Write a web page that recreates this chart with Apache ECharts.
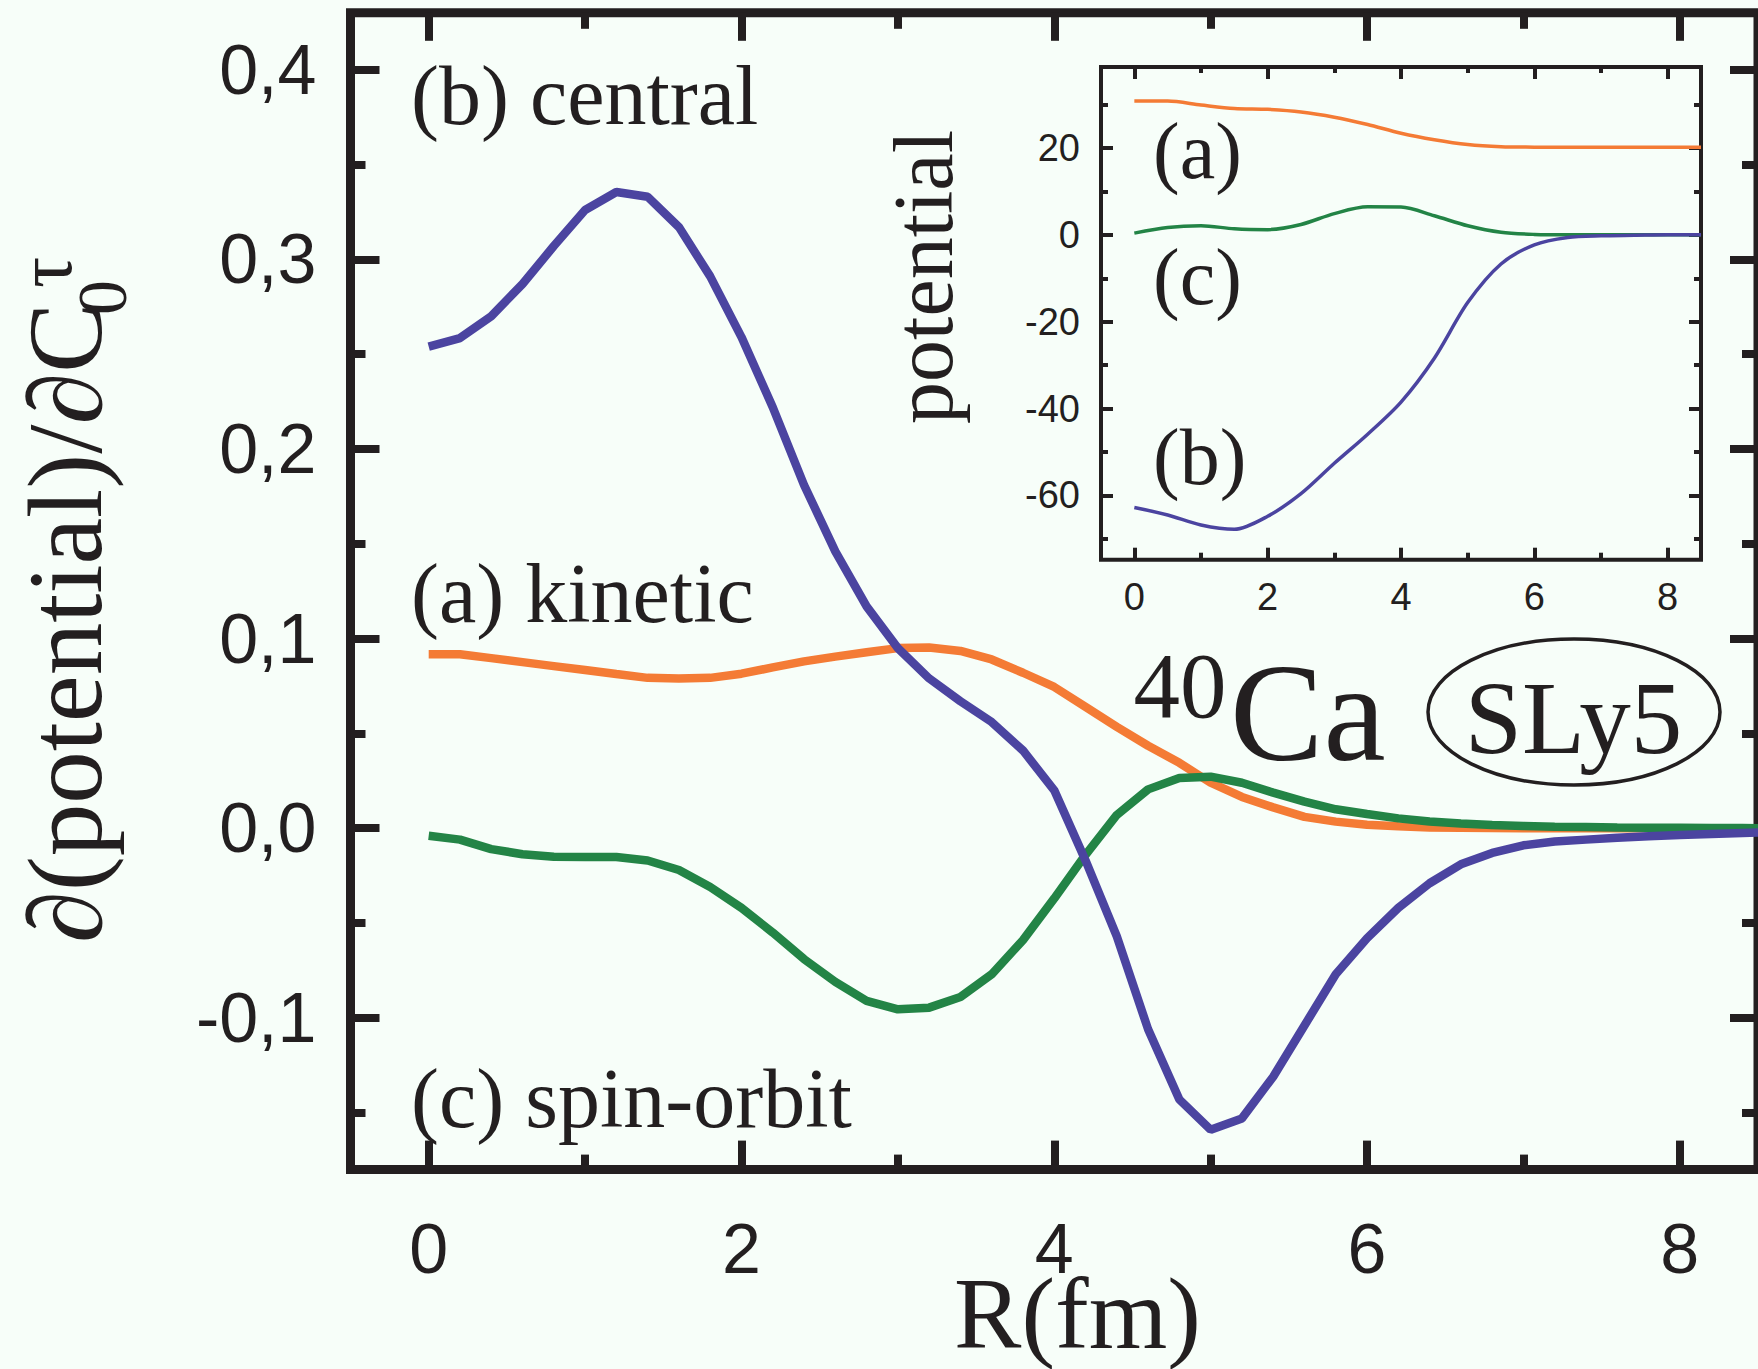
<!DOCTYPE html>
<html>
<head>
<meta charset="utf-8">
<script src="https://cdn.jsdelivr.net/npm/echarts@6/dist/echarts.min.js"></script>
<style>
html, body { margin: 0; padding: 0; background: #F7FEF9; }
#main { width: 1758px; height: 1369px; }
</style>
</head>
<body>
<div id="main"></div>
<script>
// main panel: derivative of the potentials, sampled every 0.2 fm
var radius = [0, 0.2, 0.4, 0.6, 0.8, 1.0, 1.2, 1.4, 1.6, 1.8, 2.0, 2.2, 2.4, 2.6, 2.8, 3.0, 3.2, 3.4, 3.6, 3.8, 4.0, 4.2,
	4.4, 4.6, 4.8, 5.0, 5.2, 5.4, 5.6, 5.8, 6.0, 6.2, 6.4, 6.6, 6.8, 7.0, 7.2, 7.4, 7.6, 7.8, 8.0, 8.2, 8.4, 8.6];
var kinetic = [0.0918, 0.0918, 0.0897, 0.0876, 0.0855, 0.0834, 0.0813, 0.0793, 0.0790, 0.0793, 0.0815, 0.0848, 0.0880,
	0.0905, 0.0928, 0.0950, 0.0953, 0.0935, 0.0890, 0.0820, 0.0745, 0.0640, 0.0535, 0.0435, 0.0345, 0.0240, 0.0165,
	0.0110, 0.0060, 0.0035, 0.0018, 0.0010, 0.0004, 0.0002, 0.0001, 0, 0, 0, 0, 0, 0, 0, 0, 0];
var central = [0.254, 0.2585, 0.270, 0.287, 0.307, 0.326, 0.3355, 0.333, 0.317, 0.291, 0.259, 0.222, 0.181, 0.146,
	0.117, 0.095, 0.079, 0.067, 0.056, 0.041, 0.020, -0.017, -0.057, -0.106, -0.143, -0.159, -0.153, -0.131, -0.104,
	-0.077, -0.058, -0.042, -0.029, -0.019, -0.013, -0.009, -0.007, -0.006, -0.005, -0.0042, -0.0035, -0.003, -0.0025, -0.002];
var spinOrbit = [-0.004, -0.006, -0.011, -0.0137, -0.015, -0.0152, -0.0152, -0.017, -0.022, -0.031, -0.042, -0.055,
	-0.069, -0.081, -0.091, -0.0955, -0.0946, -0.089, -0.077, -0.059, -0.037, -0.014, 0.007, 0.0205, 0.0265, 0.0272,
	0.024, 0.0188, 0.014, 0.010, 0.0075, 0.0052, 0.0036, 0.0025, 0.0017, 0.0012, 0.0008, 0.0006, 0.0004, 0.0003,
	0.0002, 0.0001, 0.0001, 0];

// inset: the potentials themselves, every 0.5 fm
var insetRadius = [0, 0.5, 1.0, 1.5, 2.0, 2.5, 3.0, 3.5, 4.0, 4.5, 5.0, 5.5, 6.0, 6.5, 7.0, 7.5, 8.0, 8.5];
var insetKinetic = [30.8, 30.8, 29.9, 29.1, 28.9, 28.3, 27.1, 25.4, 23.4, 21.9, 20.8, 20.3, 20.2, 20.15, 20.15, 20.15, 20.15, 20.15];
var insetCentral = [-62.8, -64.5, -66.8, -67.8, -64.8, -59.6, -52.6, -45.9, -38.5, -28.4, -15.6, -6.7, -2.3, -0.6, -0.2, -0.1, 0, 0];
var insetSpinOrbit = [0.4, 1.7, 2.1, 1.4, 1.2, 2.4, 4.9, 6.45, 6.4, 4.4, 2.1, 0.6, 0.1, 0, 0, 0, 0, 0];

// ticks
var xTicks = [0, 2, 4, 6, 8];
var xMinor = [1, 3, 5, 7];
var mainYTicks = [-0.1, 0, 0.1, 0.2, 0.3, 0.4];
var mainYMinor = [-0.15, -0.05, 0.05, 0.15, 0.25, 0.35];
var insetYTicks = [-60, -40, -20, 0, 20];
var insetYMinor = [-70, -50, -30, -10, 10, 30];

var ink = '#231F20';
var orange = '#F47B35';
var blue = '#4B44A0';
var green = '#238446';
var sans = '"Liberation Sans", Arial, sans-serif';
var serif = '"Liberation Serif", "DejaVu Serif", serif';

function pairs(xs, ys) {
	return xs.map(function(x, i) { return [x, ys[i]]; });
}

// one axis = one set of ticks (major or minor), optionally with labels
function tickAxis(grid, pos, min, max, ticks, len, width, label) {
	var a = {
		type: 'value', gridIndex: grid, position: pos, min: min, max: max,
		axisLine: { show: false, onZero: false },
		splitLine: { show: false },
		axisTick: { show: true, inside: true, length: len, customValues: ticks, lineStyle: { color: ink, width: width } },
		axisLabel: { show: false }
	};
	if (label) {
		a.axisLabel = Object.assign({ show: true, customValues: ticks, color: ink, fontFamily: sans }, label);
	}
	return a;
}

function line(xi, data, color, width, smooth) {
	return {
		type: 'line', xAxisIndex: xi, yAxisIndex: xi, data: data, symbol: 'none', smooth: smooth || false,
		lineStyle: { color: color, width: width }, itemStyle: { color: color }
	};
}

// text placed by its baseline (middle of the em box is ~0.34 em above it)
function txt(s, x, base, size, align, lh) {
	return {
		type: 'text', z: 100,
		style: {
			text: s, x: x, y: base - 0.34 * size, font: size + 'px ' + serif, fill: ink, lineHeight: lh || size,
			align: align || 'left', verticalAlign: 'middle', textAlign: align || 'left', textVerticalAlign: 'middle'
		}
	};
}

var chart = echarts.init(document.getElementById('main'), null, { renderer: 'svg' });

var mainMinX = -0.5, mainMaxX = 8.5, mainMinY = -0.18, mainMaxY = 0.43;
var inMinY = -74.8, inMaxY = 38.65;

chart.setOption({
	animation: false,
	backgroundColor: '#F7FEF9',
	grid: [
		{ left: 350.5, top: 12.8, width: 1410.8, height: 1156.8, show: true, borderWidth: 9, borderColor: ink, backgroundColor: 'transparent' },
		{ left: 1101, top: 67, width: 600, height: 492.7, show: true, borderWidth: 4, borderColor: ink, backgroundColor: 'transparent' }
	],
	xAxis: [
		tickAxis(0, 'bottom', mainMinX, mainMaxX, xTicks, 29, 8, { fontSize: 70, lineHeight: 50, margin: 54 }),
		tickAxis(0, 'bottom', mainMinX, mainMaxX, xMinor, 15, 8),
		tickAxis(0, 'top', mainMinX, mainMaxX, xTicks, 28, 8),
		tickAxis(0, 'top', mainMinX, mainMaxX, xMinor, 16, 8),
		tickAxis(1, 'bottom', mainMinX, mainMaxX, xTicks, 12, 4, { fontSize: 38, margin: 18 }),
		tickAxis(1, 'bottom', mainMinX, mainMaxX, xMinor, 7, 4),
		tickAxis(1, 'top', mainMinX, mainMaxX, xTicks, 12, 4),
		tickAxis(1, 'top', mainMinX, mainMaxX, xMinor, 6, 4)
	],
	yAxis: [
		tickAxis(0, 'left', mainMinY, mainMaxY, mainYTicks, 29, 8, {
			fontSize: 70, margin: 34, padding: [0, 0, 17, 0],
			formatter: function(v) { return v.toFixed(1).replace('.', ','); }
		}),
		tickAxis(0, 'left', mainMinY, mainMaxY, mainYMinor, 15, 8),
		tickAxis(0, 'right', mainMinY, mainMaxY, mainYTicks, 28, 8),
		tickAxis(0, 'right', mainMinY, mainMaxY, mainYMinor, 16, 8),
		tickAxis(1, 'left', inMinY, inMaxY, insetYTicks, 12, 4, { fontSize: 38, margin: 21, padding: [0, 0, 11, 0] }),
		tickAxis(1, 'left', inMinY, inMaxY, insetYMinor, 7, 4),
		tickAxis(1, 'right', inMinY, inMaxY, insetYTicks, 12, 4),
		tickAxis(1, 'right', inMinY, inMaxY, insetYMinor, 7, 4)
	],
	series: [
		line(0, pairs(radius, kinetic), orange, 8.5),
		line(0, pairs(radius, spinOrbit), green, 8.5),
		line(0, pairs(radius, central), blue, 8.5),
		line(4, pairs(insetRadius, insetKinetic), orange, 3.5, 0.3),
		line(4, pairs(insetRadius, insetSpinOrbit), green, 3.5, 0.3),
		line(4, pairs(insetRadius, insetCentral), blue, 3.5, 0.3)
	],
	graphic: [
		// y axis title, reads bottom to top; tau stacked over the subscript
		{
			type: 'group', x: 101, y: 943, rotation: Math.PI / 2,
			children: [
				txt('\u2202(potential)/\u2202C', 0, 0, 105),
				txt('0', 628, 25, 70),
				txt('\u03C4', 655, -30, 78, 'left', 40)
			]
		},
		{
			type: 'group', x: 952, y: 277, rotation: Math.PI / 2,
			children: [txt('potential', 0, 0, 84, 'center')]
		},
		txt('R(fm)', 1077.5, 1348, 101, 'center', 78),
		txt('(b) central', 411, 124, 84),
		txt('(a) kinetic', 411, 622, 84),
		txt('(c) spin-orbit', 411, 1127, 84),
		txt('(a)', 1153, 178, 80),
		txt('(c)', 1153, 304, 80),
		txt('(b)', 1153, 484, 80),
		txt('40', 1133.5, 717, 93),
		txt('Ca', 1230, 760, 140),
		txt('SLy5', 1573.5, 753, 103, 'center'),
		{
			type: 'ellipse', z: 100,
			shape: { cx: 1574, cy: 712, rx: 146, ry: 73 },
			style: { fill: 'none', stroke: ink, lineWidth: 3.5 }
		}
	]
});
</script>
</body>
</html>
